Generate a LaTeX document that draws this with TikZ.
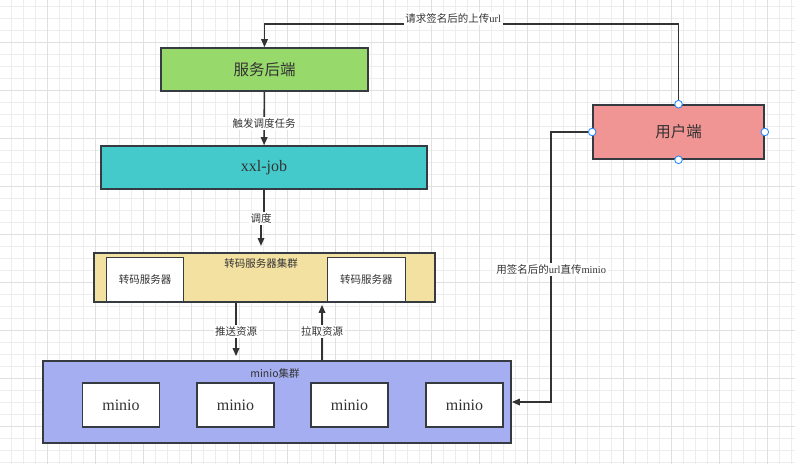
\documentclass[tikz,border=0pt]{standalone}
\usepackage{fontspec}
\setmainfont{Liberation Serif}
\newfontfamily\cjk{Noto Sans CJK SC}
\usepackage{tikz}
\usetikzlibrary{arrows.meta}
\definecolor{linegray}{HTML}{333333}
\definecolor{edgegray}{HTML}{363B42}
\definecolor{backendgreen}{HTML}{97D96B}
\definecolor{jobteal}{HTML}{45CACC}
\definecolor{clusterwheat}{HTML}{F3E1A2}
\definecolor{miniopurple}{HTML}{A5AEF0}
\definecolor{userpink}{HTML}{F19494}
\definecolor{handleblue}{HTML}{2A8BFF}
\tikzset{
  box/.style={
    draw=edgegray,
    line width=1.6pt,
    shape=rectangle,
    inner sep=0pt,
    text=black!80
  },
  bigtext/.style={font=\cjk\fontsize{15.5}{18}\selectfont},
  smalltext/.style={font=\cjk\fontsize{10.5}{12}\selectfont, text=black!80},
  serifbig/.style={font=\fontsize{16}{18}\selectfont},
  flow/.style={
    draw=linegray,
    line width=1.6pt,
    -{Triangle[length=8pt,width=6.5pt]}
  },
  lbl/.style={
    fill=white,
    inner sep=1.5pt,
    font=\cjk\fontsize{10.5}{12}\selectfont,
    text=black!80
  },
  handle/.style={
    draw=handleblue,
    fill=white,
    line width=0.9pt
  },
  gridminor/.style={draw=black!7, line width=0.8pt},
  gridmajor/.style={draw=black!12, line width=0.8pt}
}

\begin{document}
\begin{tikzpicture}[x=1pt,y=-1pt]
  \useasboundingbox (0,0) rectangle (795,464);
  \fill[white] (0,0) rectangle (795,464);
  % background grid
  \foreach \gx in {0,...,65} \draw[gridminor] (11.5+12*\gx,0) -- (11.5+12*\gx,464);
  \foreach \gy in {0,...,38} \draw[gridminor] (0,6+12*\gy) -- (795,6+12*\gy);
  \foreach \gx in {0,...,15} \draw[gridmajor] (47.5+48*\gx,0) -- (47.5+48*\gx,464);
  \foreach \gy in {0,...,8} \draw[gridmajor] (0,42+48*\gy) -- (795,42+48*\gy);

  \node[box, bigtext, fill=backendgreen, minimum width=207pt, minimum height=43pt] (backend) at (264.5,69.5) {服务后端};
  \node[box, serifbig, fill=jobteal, minimum width=326pt, minimum height=43pt] (xxl) at (264,167.5) {xxl-job};
  \node[box, fill=clusterwheat, minimum width=341pt, minimum height=49pt] (cluster) at (264.5,277.5) {};
  \node[smalltext] at (261,263) {转码服务器集群};
  \node[box, smalltext, fill=white, minimum width=77pt, minimum height=44pt] (trans1) at (145,279.5) {转码服务器};
  \node[box, smalltext, fill=white, minimum width=78pt, minimum height=44pt] (trans2) at (366.3,279.5) {转码服务器};

  \node[box, fill=miniopurple, minimum width=468pt, minimum height=82pt] (minios) at (277,402) {};
  \node[smalltext] at (275,373) {minio集群};
  \foreach \mx [count=\mi] in {121,235.5,349.5,464.5}
    \node[box, serifbig, fill=white, minimum width=77pt, minimum height=44pt] (minio\mi) at (\mx,405) {minio};

  \node[box, bigtext, fill=userpink, minimum width=171pt, minimum height=54pt] (user) at (678.5,132) {用户端};

  \coordinate (schedin) at (261,246);
  \coordinate (push) at (236,0);
  \coordinate (pull) at (322,0);

  \draw[flow] (user.north) -- ++(0,-80) -| (backend.north)
    node[lbl, pos=0.272, yshift=6pt] {请求签名后的上传{\rmfamily url}};
  \draw[flow] (backend) -- (xxl) node[lbl, pos=0.6] {触发调度任务};
  \draw[flow] (xxl.south) -- ++(0,29) -- ++(-3,0) node[lbl] {调度} -- (schedin);
  \draw[flow, shorten >=4pt] (cluster.south -| push) -- (minios.north -| push)
    node[lbl, midway] {推送资源};
  \draw[flow, shorten >=2pt] (minios.north -| pull) -- (cluster.south -| pull)
    node[lbl, midway] {拉取资源};
  \draw[flow] (user.west) -- ++(-41,0) |- (minios.east)
    node[lbl, pos=0.254] {用签名后的{\rmfamily url}直传{\rmfamily minio}};

  \foreach \side in {north,south,east,west}
    \draw[handle] (user.\side) circle (3.8pt);
\end{tikzpicture}
\end{document}
